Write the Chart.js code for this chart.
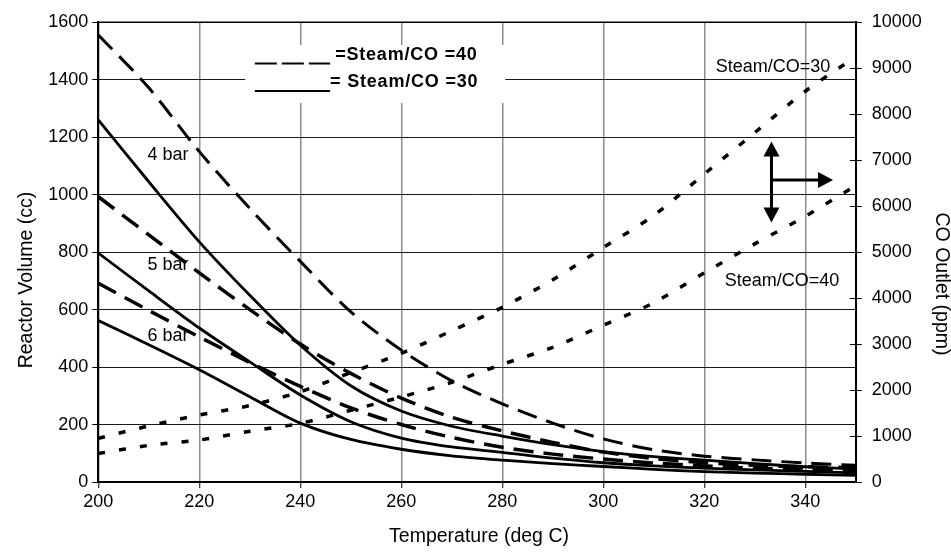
<!DOCTYPE html>
<html><head><meta charset="utf-8">
<script src="https://cdn.jsdelivr.net/npm/chart.js@4.4.1/dist/chart.umd.min.js"></script>
<style>html,body{margin:0;padding:0;background:#fff;}</style>
</head><body>
<canvas id="c" width="951" height="554"></canvas>
<script>
// ---- data ----
const temps = [200,210,220,230,240,250,260,270,280,290,300,310,320,330,340,350];
// Reactor volume (cc), Steam/CO = 40 (dashed)
const vol40_4bar = [1556,1372,1150,952,768,592,459,352,272,205,150,112,90,77,66,58];
const vol40_5bar = [993,860,728,600,480,378,292,225,178,138,104,82,67,58,53,50];
const vol40_6bar = [692,597,505,416,333,258,200,155,121,97,80,66,56,48,43,40];
// Reactor volume (cc), Steam/CO = 30 (solid)
const vol30_4bar = [1260,1045,836,650,476,335,247,194,160,130,106,88,76,64,53,45];
const vol30_5bar = [797,665,536,418,303,210,153,122,103,83,67,56,48,42,37,32];
const vol30_6bar = [562,478,391,297,205,148,114,91,76,64,54,44,36,31,27,23];
// CO outlet (ppm), dotted
const co30 = [950,1220,1457,1664,1963,2380,2800,3290,3800,4400,5100,5800,6700,7600,8500,9250];
const co40 = [620,797,913,1104,1276,1560,1850,2170,2560,2930,3410,3900,4550,5180,5780,6450];
// ticks and texts
const xTicks = [200,220,240,260,280,300,320,340];
const yTicks = [0,200,400,600,800,1000,1200,1400,1600];
const y2Ticks = [0,1000,2000,3000,4000,5000,6000,7000,8000,9000,10000];
const barLabels = ['4 bar','5 bar','6 bar'];
const ratioLabels = ['Steam/CO=30','Steam/CO=40'];
const legendLabels = ['=Steam/CO =40','= Steam/CO =30'];
const axisTitles = {x:'Temperature (deg C)', y:'Reactor Volume (cc)', y2:'CO Outlet (ppm)'};

// ---- layout (data-space anchors for annotations) ----
const FONT = 'Liberation Sans, Arial, sans-serif';
const barPos = [{x:213.8,y:1138},{x:213.8,y:756},{x:213.8,y:509}];
const ratioPos = [{x:333.6,y:1445},{x:335.4,y:700}];
const legendBox = {x0:229.1,x1:280.6,y0:1319,y1:1521};
const legendRows = [
  {lx0:231.0,lx1:245.9,ly:1457,dash:[22,5],tx:246.9,ty:1486},
  {lx0:231.0,lx1:245.9,ly:1361,dash:[],tx:245.9,ty:1393}
];
const arrowPos = {x:333.3,yTop:1185,yBot:903,yMid:1051,xRight:345.5};
const titlePos = {x:{cx:479,cy:537}, y:{cx:27,cy:280}, y2:{cx:941,cy:284}};

const pts = arr => temps.map((t,i)=>({x:t,y:arr[i]}));
const dashed = [20,10], dotted = [7,14];
function ds(label, arr, axis, dash, width){
  return {label, data:pts(arr), yAxisID:axis, borderColor:'#000', backgroundColor:'#000',
    borderWidth:width, borderDash:dash, borderCapStyle:'butt', pointRadius:0,
    tension:0.3, fill:false};
}

Chart.defaults.color = '#000';
Chart.defaults.font.family = FONT;
Chart.defaults.font.size = 18;

const annot = {
  id:'annot',
  beforeDatasetsDraw(chart){
    const {ctx, scales:{x,y}} = chart;
    ctx.save();
    ctx.fillStyle = '#fff';
    const L = x.getPixelForValue(legendBox.x0), R = x.getPixelForValue(legendBox.x1);
    const T = y.getPixelForValue(legendBox.y1), B = y.getPixelForValue(legendBox.y0);
    ctx.fillRect(L, T, R-L, B-T);
    ctx.restore();
  },
  afterDraw(chart){
    const {ctx, chartArea:ca, scales:{x,y,y2}} = chart;
    ctx.save();
    // top frame line
    ctx.strokeStyle = '#000'; ctx.lineWidth = 1.5;
    ctx.beginPath(); ctx.moveTo(ca.left, ca.top); ctx.lineTo(ca.right, ca.top); ctx.stroke();
    // inner halves of right axis ticks
    ctx.lineWidth = 1;
    y2Ticks.forEach(v=>{ const py = Math.round(y2.getPixelForValue(v))+0.5;
      ctx.beginPath(); ctx.moveTo(ca.right-6, py); ctx.lineTo(ca.right, py); ctx.stroke(); });
    // axis titles
    ctx.fillStyle = '#000'; ctx.textAlign = 'center'; ctx.textBaseline = 'middle';
    ctx.font = '19.5px ' + FONT;
    ctx.fillText(axisTitles.x, titlePos.x.cx, titlePos.x.cy);
    ctx.save(); ctx.translate(titlePos.y.cx, titlePos.y.cy); ctx.rotate(-Math.PI/2);
    ctx.fillText(axisTitles.y, 0, 0); ctx.restore();
    ctx.save(); ctx.translate(titlePos.y2.cx, titlePos.y2.cy); ctx.rotate(Math.PI/2);
    ctx.fillText(axisTitles.y2, 0, 0); ctx.restore();
    // bar labels
    ctx.font = '18px ' + FONT;
    barLabels.forEach((t,i)=>ctx.fillText(t, x.getPixelForValue(barPos[i].x), y.getPixelForValue(barPos[i].y)));
    ratioLabels.forEach((t,i)=>ctx.fillText(t, x.getPixelForValue(ratioPos[i].x), y.getPixelForValue(ratioPos[i].y)));
    // legend
    ctx.font = 'bold 18px ' + FONT; ctx.textAlign = 'left';
    try { ctx.letterSpacing = '0.8px'; } catch(e){}
    legendRows.forEach((r,i)=>{
      ctx.lineWidth = 2; ctx.setLineDash(r.dash);
      const ly = y.getPixelForValue(r.ly);
      ctx.beginPath(); ctx.moveTo(x.getPixelForValue(r.lx0), ly); ctx.lineTo(x.getPixelForValue(r.lx1), ly); ctx.stroke();
      ctx.setLineDash([]);
      ctx.fillText(legendLabels[i], x.getPixelForValue(r.tx), y.getPixelForValue(r.ty));
    });
    try { ctx.letterSpacing = '0px'; } catch(e){}
    // arrows
    const ax = x.getPixelForValue(arrowPos.x), at = y.getPixelForValue(arrowPos.yTop),
          ab = y.getPixelForValue(arrowPos.yBot), am = y.getPixelForValue(arrowPos.yMid),
          ar = x.getPixelForValue(arrowPos.xRight);
    const hl = 15, hw = 8;
    ctx.lineWidth = 3;
    ctx.beginPath(); ctx.moveTo(ax, at+hl-2); ctx.lineTo(ax, ab-hl+2); ctx.stroke();
    ctx.beginPath(); ctx.moveTo(ax, am); ctx.lineTo(ar-hl+2, am); ctx.stroke();
    ctx.beginPath(); ctx.moveTo(ax, at); ctx.lineTo(ax-hw, at+hl); ctx.lineTo(ax+hw, at+hl); ctx.closePath(); ctx.fill();
    ctx.beginPath(); ctx.moveTo(ax, ab); ctx.lineTo(ax-hw, ab-hl); ctx.lineTo(ax+hw, ab-hl); ctx.closePath(); ctx.fill();
    ctx.beginPath(); ctx.moveTo(ar, am); ctx.lineTo(ar-hl, am-hw); ctx.lineTo(ar-hl, am+hw); ctx.closePath(); ctx.fill();
    ctx.restore();
  }
};

const plain = v => String(v);

new Chart(document.getElementById('c'), {
  type:'line',
  data:{datasets:[
    ds('Steam/CO=40, 4 bar', vol40_4bar, 'y', dashed, 3),
    ds('Steam/CO=40, 5 bar', vol40_5bar, 'y', dashed, 3.5),
    ds('Steam/CO=40, 6 bar', vol40_6bar, 'y', dashed, 3.5),
    ds('Steam/CO=30, 4 bar', vol30_4bar, 'y', [], 2.8),
    ds('Steam/CO=30, 5 bar', vol30_5bar, 'y', [], 2.8),
    ds('Steam/CO=30, 6 bar', vol30_6bar, 'y', [], 2.8),
    ds('CO outlet, Steam/CO=30', co30, 'y2', dotted, 3.5),
    ds('CO outlet, Steam/CO=40', co40, 'y2', dotted, 3.5)
  ]},
  options:{
    responsive:false, animation:false, devicePixelRatio:1,
    layout:{padding:{top:22.3,left:0,right:0,bottom:0}},
    plugins:{legend:{display:false}, tooltip:{enabled:false}},
    scales:{
      x:{type:'linear', min:200, max:350,
        afterBuildTicks: s => { s.ticks = xTicks.map(v=>({value:v})); },
        afterFit: s => { s.height = 72; },
        ticks:{padding:3, maxRotation:0, autoSkip:false, callback:plain},
        grid:{color:'#8c8c8c', lineWidth:1.5, tickLength:6, tickColor:'#000', tickWidth:1},
        border:{color:'#000', width:2}
      },
      y:{type:'linear', position:'left', min:0, max:1600,
        afterBuildTicks: s => { s.ticks = yTicks.map(v=>({value:v})); },
        afterFit: s => { s.width = 98.3; },
        ticks:{padding:4, callback:plain},
        grid:{color:'#1a1a1a', lineWidth:1, tickLength:6, tickColor:'#000'},
        border:{color:'#000', width:2}
      },
      y2:{type:'linear', position:'right', min:0, max:10000,
        afterBuildTicks: s => { s.ticks = y2Ticks.map(v=>({value:v})); },
        afterFit: s => { s.width = 95.2; },
        ticks:{padding:10, callback:plain},
        grid:{drawOnChartArea:false, tickLength:6, tickColor:'#000'},
        border:{color:'#000', width:2}
      }
    }
  },
  plugins:[annot]
});
</script>
</body></html>
